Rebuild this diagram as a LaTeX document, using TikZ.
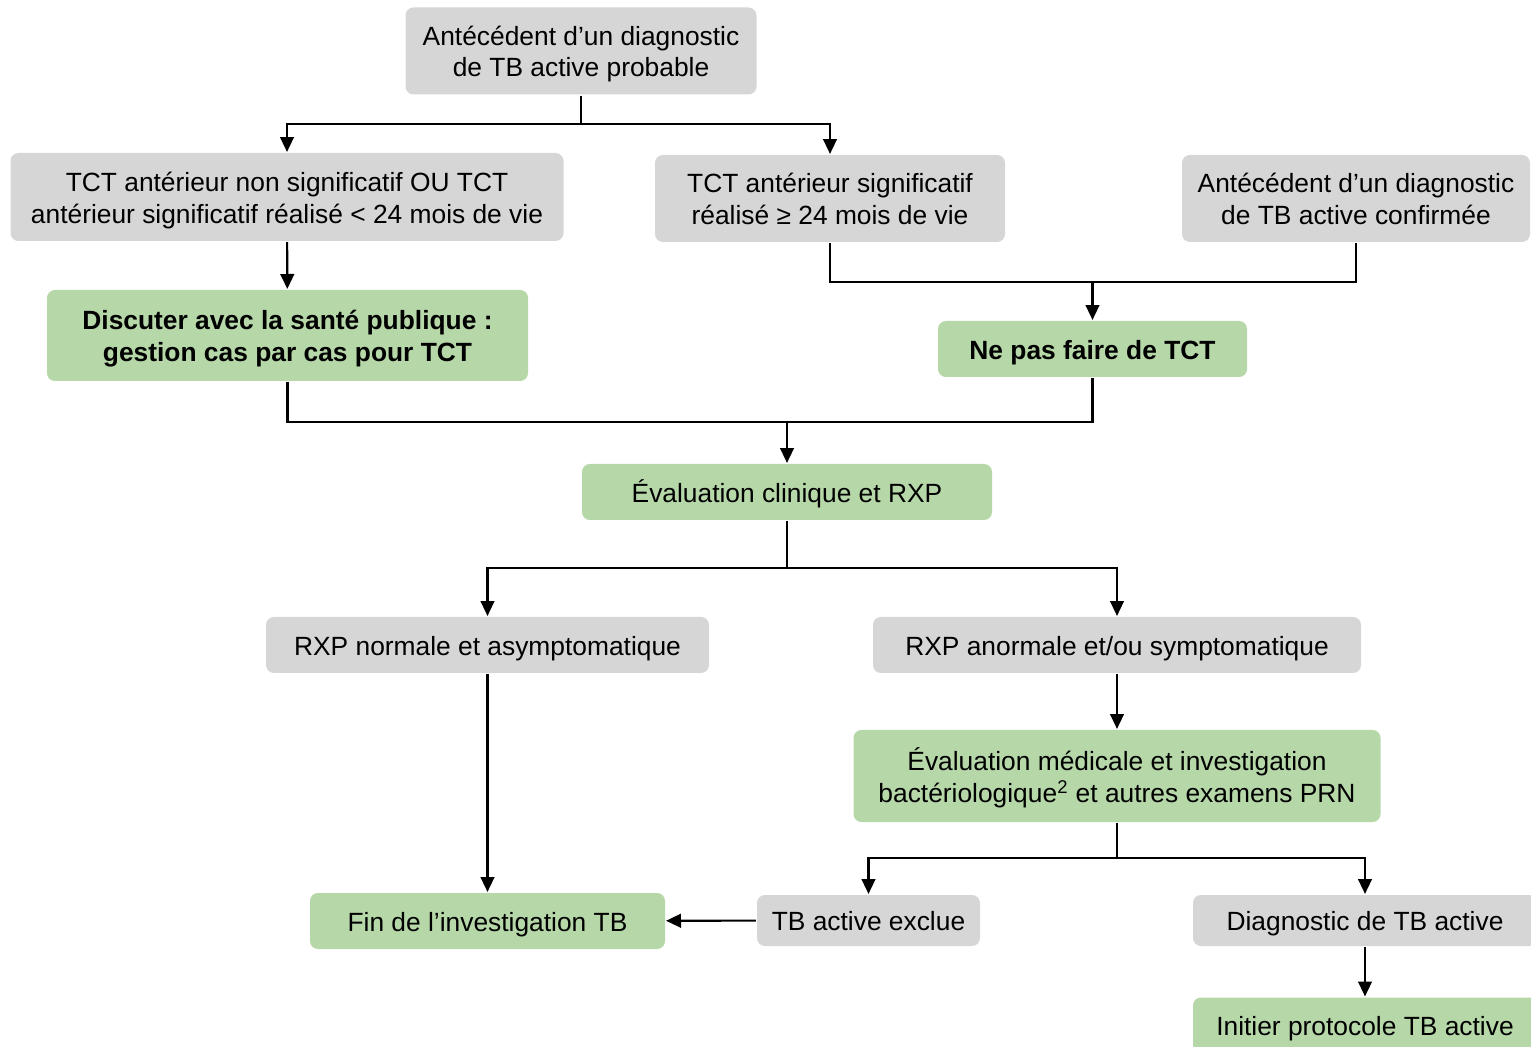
\documentclass[tikz,border=0pt]{standalone}
\usepackage{fontspec}
\setmainfont{Liberation Sans}
\usetikzlibrary{arrows.meta}

\definecolor{boxgray}{HTML}{D6D6D6}
\definecolor{boxgreen}{HTML}{B6D7A8}

% texte centre dans la boite, descendu un peu
\newcommand{\boxtext}[1]{\raisebox{-2.2pt}[\height][\depth]{\begin{tabular}{@{}c@{}}#1\end{tabular}}}

\tikzset{
    graybox/.style={fill=boxgray, rounded corners=4.5pt, inner sep=0pt,
        font=\fontsize{15}{18}\selectfont},
    greenbox/.style={graybox, fill=boxgreen},
    boldbox/.style={greenbox, font=\fontsize{15}{18}\selectfont\bfseries},
    arr/.style={-{Triangle[length=8.5pt,width=7.8pt]}},
}

\begin{document}
\begin{tikzpicture}[line width=1.2pt]
    \useasboundingbox (0,0) rectangle (30.62,-20.94);

    % premiere rangee
    \node[graybox, minimum width=7.02cm, minimum height=1.74cm] (prob) at (11.62,-1.02)
        {\boxtext{Antécédent d’un diagnostic\\de TB active probable}};
    \node[graybox, minimum width=11.06cm, minimum height=1.76cm] (nonsig) at (5.74,-3.94)
        {\boxtext{TCT antérieur non significatif OU TCT\\antérieur significatif réalisé < 24 mois de vie}};
    \node[graybox, minimum width=7.0cm, minimum height=1.74cm] (sig) at (16.6,-3.97)
        {\boxtext{TCT antérieur significatif\\réalisé ≥ 24 mois de vie}};
    \node[graybox, minimum width=6.96cm, minimum height=1.74cm] (conf) at (27.12,-3.97)
        {\boxtext{Antécédent d’un diagnostic\\de TB active confirmée}};

    \node[boldbox, minimum width=9.62cm, minimum height=1.82cm] (discuter) at (5.75,-6.71)
        {\boxtext{Discuter avec la santé publique :\\gestion cas par cas pour TCT}};
    \node[boldbox, minimum width=6.18cm, minimum height=1.12cm] (nepas) at (21.85,-6.98)
        {\boxtext{Ne pas faire de TCT}};

    \node[greenbox, minimum width=8.2cm, minimum height=1.12cm] (eval) at (15.74,-9.84)
        {\boxtext{Évaluation clinique et RXP}};

    \node[graybox, minimum width=8.86cm, minimum height=1.12cm] (normale) at (9.75,-12.9)
        {\boxtext{RXP normale et asymptomatique}};
    \node[graybox, minimum width=9.76cm, minimum height=1.12cm] (anormale) at (22.34,-12.9)
        {\boxtext{RXP anormale et/ou symptomatique}};

    \node[greenbox, minimum width=10.54cm, minimum height=1.84cm] (evalmed) at (22.34,-15.52)
        {\boxtext{Évaluation médicale et investigation\\bactériologique\textsuperscript{2} et autres examens PRN}};

    \node[greenbox, minimum width=7.1cm, minimum height=1.12cm] (fin) at (9.75,-18.42)
        {\boxtext{Fin de l’investigation TB}};
    \node[graybox, minimum width=4.46cm, minimum height=1.02cm] (exclue) at (17.37,-18.41)
        {\boxtext{TB active exclue}};
    \node[graybox, minimum width=6.88cm, minimum height=1.02cm] (diag) at (27.3,-18.41)
        {\boxtext{Diagnostic de TB active}};
    \node[greenbox, minimum width=6.88cm, minimum height=1.1cm] (initier) at (27.3,-20.5)
        {\boxtext{Initier protocole TB active}};

    % points de jonction
    \coordinate (j1) at (11.62,-2.48);
    \coordinate (j2) at (21.85,-5.64);
    \coordinate (j3) at (15.74,-8.44);
    \coordinate (j4) at (15.74,-11.36);
    \coordinate (j5) at (22.34,-17.16);

    \draw (prob.south) -- (j1);
    \draw[arr] (j1) -| (nonsig.north);
    \draw[arr] (j1) -| (sig.north);
    \draw[arr] (nonsig) -- (discuter);

    \draw (sig.south) |- (j2) -| (conf.south);
    \draw[arr] (j2) -- (nepas.north);

    \draw (discuter.south) |- (j3);
    \draw (nepas.south) |- (j3);
    \draw[arr] (j3) -- (eval.north);

    \draw (eval.south) -- (j4);
    \draw[arr] (j4) -| (normale.north);
    \draw[arr] (j4) -| (anormale.north);

    \draw[arr] (anormale) -- (evalmed);
    \draw[arr] (normale) -- (fin);

    \draw (evalmed.south) -- (j5);
    \draw[arr] (j5) -| (exclue.north);
    \draw[arr] (j5) -| (diag.north);
    \draw[arr] (exclue) -- (fin);
    \draw[arr] (diag) -- (initier);

\end{tikzpicture}
\end{document}
